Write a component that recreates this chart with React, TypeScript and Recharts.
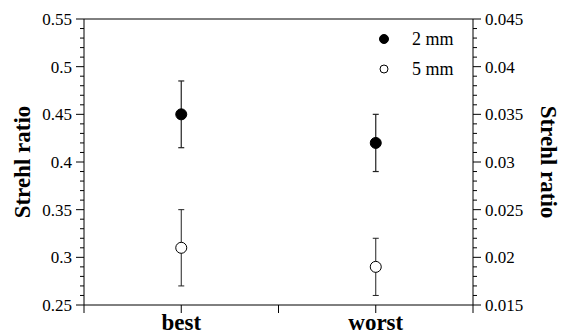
import React from 'react';
import {
  ScatterChart,
  Scatter,
  XAxis,
  YAxis,
  ErrorBar,
  Legend,
  ReferenceLine,
} from 'recharts';

// categories on the x axis (placed at 1 and 3 on a 0..4 scale)
const categories = ['best', 'worst'];
const categoryPos = [1, 3];
const xTicks = [0, 1, 2, 3, 4];

// 2 mm -> left axis, 5 mm -> right axis
const strehl2mm = [0.45, 0.42];
const err2mm = [0.035, 0.03];
const strehl5mm = [0.021, 0.019];
const err5mm = [0.004, 0.003];

const leftMajor = [0.25, 0.3, 0.35, 0.4, 0.45, 0.5, 0.55];
const rightMajor = [0.015, 0.02, 0.025, 0.03, 0.035, 0.04, 0.045];

// minor ticks every 0.01 (left) / 0.001 (right)
const leftTicks = Array.from({ length: 31 }, (_, i) => +(0.25 + i * 0.01).toFixed(2));
const rightTicks = Array.from({ length: 31 }, (_, i) => +(0.015 + i * 0.001).toFixed(3));

const data2mm = categoryPos.map((x, i) => ({ x, y: strehl2mm[i], err: err2mm[i] }));
const data5mm = categoryPos.map((x, i) => ({ x, y: strehl5mm[i], err: err5mm[i] }));

const FONT = '"Liberation Serif", "Times New Roman", serif';
const TICK = 8;
const MARGIN = 4;

const isMajor = (v: number, majors: number[]) => majors.some((m) => Math.abs(m - v) < 1e-9);

function YTick(props: any) {
  const { x, y, payload, side, majors } = props;
  const major = isMajor(payload.value, majors);
  const len = major ? TICK : 4;
  const left = side === 'left';
  const ax = left ? x + TICK + MARGIN : x - TICK - MARGIN;
  return (
    <g>
      <line x1={ax} x2={left ? ax - len : ax + len} y1={y} y2={y} stroke="#000" strokeWidth={1} />
      {major && (
        <text
          x={x}
          y={y}
          dy="0.35em"
          textAnchor={left ? 'end' : 'start'}
          style={{ fontFamily: FONT, fontSize: 17 }}
          fill="#000"
        >
          {String(payload.value)}
        </text>
      )}
    </g>
  );
}

function XTick(props: any) {
  const { x, y, payload } = props;
  const idx = categoryPos.indexOf(payload.value);
  if (idx < 0) return null;
  return (
    <text
      x={x}
      y={y}
      dy="0.7em"
      textAnchor="middle"
      style={{ fontFamily: FONT, fontSize: 23, fontWeight: 'bold' }}
      fill="#000"
    >
      {categories[idx]}
    </text>
  );
}

function AxisTitle(props: any) {
  const { viewBox, side } = props;
  if (!viewBox) return null;
  const cx = side === 'left' ? viewBox.x + 22 : viewBox.x + 75;
  const cy = viewBox.y + viewBox.height / 2;
  return (
    <text
      x={cx}
      y={cy}
      textAnchor="middle"
      dominantBaseline="central"
      transform={`rotate(${side === 'left' ? -90 : 90}, ${cx}, ${cy})`}
      style={{ fontFamily: FONT, fontSize: 23, fontWeight: 'bold' }}
      fill="#000"
    >
      Strehl ratio
    </text>
  );
}

const filledMap: Record<string, boolean> = { '2 mm': true, '5 mm': false };

function LegendBox(props: any) {
  const { payload } = props;
  return (
    <div style={{ fontFamily: FONT, fontSize: 18, color: '#000' }}>
      {(payload || []).map((entry: any) => (
        <div key={entry.value} style={{ display: 'flex', alignItems: 'center', height: 20, marginBottom: 10 }}>
          <svg width={18} height={18}>
            <circle
              cx={9}
              cy={9}
              r={filledMap[entry.value] ? 4.5 : 4}
              fill={filledMap[entry.value] ? '#000' : '#fff'}
              stroke="#000"
              strokeWidth={1}
            />
          </svg>
          <span style={{ marginLeft: 19 }}>{entry.value}</span>
        </div>
      ))}
    </div>
  );
}

export default function App() {
  return (
    <div style={{ position: 'absolute', left: 0, top: 0, background: '#fff' }}>
      <ScatterChart width={565} height={335} margin={{ top: 19, right: 0, bottom: 0, left: 0 }}>
        <XAxis
          dataKey="x"
          type="number"
          domain={[0, 4]}
          ticks={xTicks}
          interval={0}
          tick={<XTick />}
          tickSize={8}
          tickMargin={1}
          height={30}
          axisLine={{ stroke: '#000' }}
          tickLine={{ stroke: '#000' }}
        />
        <YAxis
          yAxisId="left"
          orientation="left"
          dataKey="y"
          type="number"
          domain={[0.25, 0.55]}
          ticks={leftTicks}
          interval={0}
          width={84}
          tickSize={TICK}
          tickMargin={MARGIN}
          tickLine={false}
          axisLine={{ stroke: '#000' }}
          tick={<YTick side="left" majors={leftMajor} />}
          label={<AxisTitle side="left" />}
        />
        <YAxis
          yAxisId="right"
          orientation="right"
          dataKey="y"
          type="number"
          domain={[0.015, 0.045]}
          ticks={rightTicks}
          interval={0}
          width={92}
          tickSize={TICK}
          tickMargin={MARGIN}
          tickLine={false}
          axisLine={{ stroke: '#000' }}
          tick={<YTick side="right" majors={rightMajor} />}
          label={<AxisTitle side="right" />}
        />
        <ReferenceLine yAxisId="left" y={0.55} stroke="#000" strokeWidth={1} />
        <Legend
          layout="vertical"
          align="center"
          verticalAlign="middle"
          content={<LegendBox />}
          wrapperStyle={{ left: 375, top: 29, width: 'auto' }}
        />
        <Scatter
          name="2 mm"
          yAxisId="left"
          data={data2mm}
          dataKey="y"
          isAnimationActive={false}
          shape={(p: any) => <circle cx={p.cx} cy={p.cy} r={5.5} fill="#000" stroke="#000" />}
        >
          <ErrorBar dataKey="err" direction="y" width={3} stroke="#222" strokeWidth={1.2} />
        </Scatter>
        <Scatter
          name="5 mm"
          yAxisId="right"
          data={data5mm}
          dataKey="y"
          isAnimationActive={false}
          shape={(p: any) => <circle cx={p.cx} cy={p.cy} r={5.5} fill="#fff" stroke="#000" strokeWidth={1} />}
        >
          <ErrorBar dataKey="err" direction="y" width={3} stroke="#222" strokeWidth={1} />
        </Scatter>
      </ScatterChart>
    </div>
  );
}
